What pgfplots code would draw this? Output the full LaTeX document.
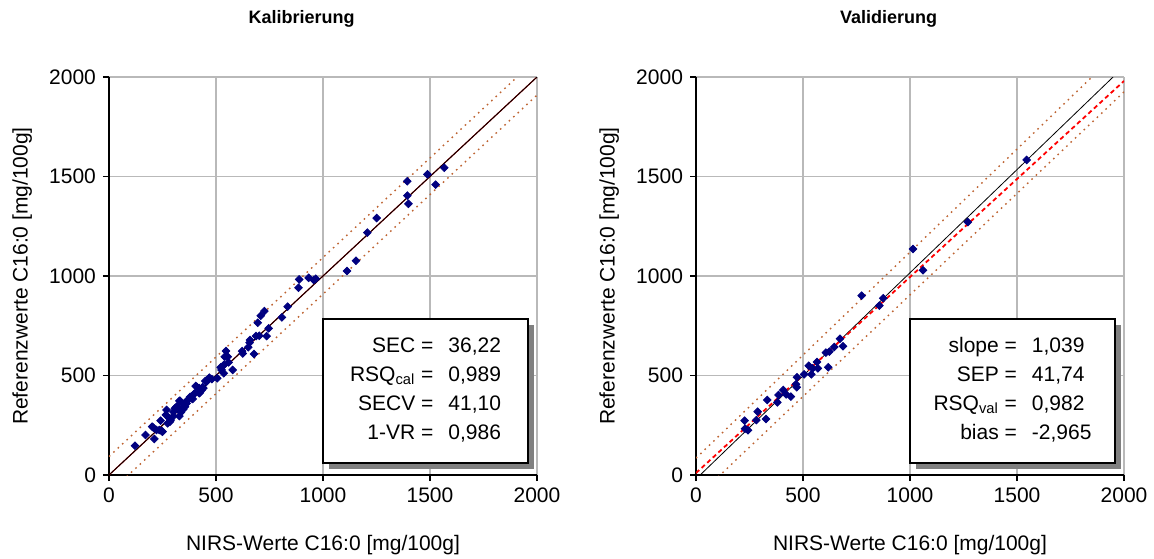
\documentclass[border=0pt]{standalone}
\usepackage{fontspec}
\setmainfont{Liberation Sans}
\usepackage{pgfplots}
\pgfplotsset{compat=1.18}

\definecolor{navy}{RGB}{0,0,128}
\definecolor{bandc}{RGB}{190,100,50}
\definecolor{gridc}{RGB}{185,185,185}
\definecolor{shadowc}{RGB}{128,128,128}

\pgfplotsset{
  nirs/.style={
    scale only axis, width=214pt, height=199pt,
    xmin=0, xmax=2000, ymin=0, ymax=2000,
    xtick={0,500,...,2000}, ytick={0,500,...,2000},
    axis lines=left, axis line style={-, black, line width=0.9pt},
    tick align=outside, major tick length=3pt,
    tick style={black, line width=0.6pt},
    grid=major, major grid style={gridc, line width=0.8pt},
    /pgf/number format/1000 sep={},
    /pgf/number format/assume math mode=true,
    ticklabel style={font=\fontsize{10.5}{12}\selectfont},
    label style={font=\fontsize{10.5}{12}\selectfont},
    xlabel={NIRS-Werte C16:0 [mg/100g]},
    ylabel={Referenzwerte C16:0 [mg/100g]},
    xlabel style={at={(axis description cs:0.5,-0.176)}, anchor=center},
    ylabel style={at={(axis description cs:-0.203,0.5)}, anchor=center},
    title style={at={(axis description cs:0.45,1.115)}, anchor=center,
      font=\bfseries\fontsize{9}{11}\selectfont},
  },
  pts/.style={only marks, mark=square*, mark size=1.35pt, color=navy,
    mark options={rotate=45}},
  band/.style={bandc, dash pattern=on 0.8pt off 2.2pt, line width=0.7pt},
}

\newcommand{\statbox}[1]{%
  \fill[shadowc] ([xshift=3pt,yshift=-3pt]axis cs:1000,784) rectangle ([xshift=3pt,yshift=-3pt]axis cs:1958,60);
  \filldraw[fill=white, draw=black, line width=0.9pt] (axis cs:1000,60) rectangle (axis cs:1958,784);
  \node[font=\fontsize{10.5}{12}\selectfont] at (axis cs:1479,422)
    {\begin{tabular}{@{}r@{\hspace{7.5pt}}l@{}}#1\end{tabular}};
}

\begin{document}
\begin{tikzpicture}
\path[use as bounding box] (-54.5pt,-41.5pt) rectangle (522.5pt,237.5pt);

\begin{axis}[nirs, title={Kalibrierung}]
\addplot[band] coordinates {(0,93) (1907,2000)};
\addplot[band] coordinates {(0,-91) (2000,1909)};
\addplot[red!70!black, line width=0.6pt] coordinates {(0,0) (2000,2000)};
\addplot[black, line width=0.4pt] coordinates {(0,0) (2000,2000)};
\addplot[pts] coordinates {
(1567,1544) (1488,1511) (1526,1459) (1394,1476) (1394,1404) (1399,1363)
(1251,1291) (1207,1218) (1154,1077) (1112,1025) (889,983) (886,941)
(933,991) (957,980) (966,986) (835,846) (808,792) (726,824) (709,800)
(695,765) (746,737) (737,698) (702,700) (687,698) (659,678) (657,665)
(651,642) (678,608) (622,623) (625,611) (547,623) (541,594) (555,594)
(559,566) (537,553) (522,541) (526,528) (536,511) (578,528) (506,486)
(481,482) (461,477) (450,472) (469,489)
(121,147) (171,201) (207,238) (212,181) (222,226) (241,273) (246,221)
(266,302) (269,327) (274,260) (288,276) (301,296) (308,335) (319,343)
(329,372) (336,315) (341,327) (355,343) (360,368) (368,377) (391,382)
(402,411) (410,444) (425,414) (433,427) (441,436) (456,469) (421,437)
(405,447) (282,285) (301,317) (347,330) (350,352) (363,360) (379,393)
(386,385) (397,407) (422,411) (437,441) (202,243) (235,226) (250,218)
(285,268) (316,343) (332,373) (329,296)
};
\statbox{SEC = & 36,22\\[2.4pt] RSQ\textsubscript{cal} = & 0,989\\[2.4pt] SECV = & 41,10\\[2.4pt] 1-VR = & 0,986}
\end{axis}

\begin{axis}[nirs, at={(293.5pt,0pt)}, title={Validierung}]
\addplot[band] coordinates {(0,85) (1850,2000)};
\addplot[band] coordinates {(103,-10) (2000,1925)};
\addplot[black, line width=0.4pt] coordinates {(0,-20) (1949,2000)};
\addplot[red, line width=0.9pt, dash pattern=on 2.2pt off 1.6pt] coordinates {(0,10) (2000,1980)};
\addplot[pts] coordinates {
(1545,1583) (1270,1271) (1014,1136) (1061,1029) (774,901) (875,888)
(857,851) (673,685) (687,647) (646,643) (623,620) (607,615) (618,541)
(565,568) (569,536) (527,549) (545,536) (539,506) (505,506) (472,491)
(467,456) (471,441) (408,427) (421,405) (386,402) (443,394) (333,377)
(380,365) (288,318) (282,276) (327,281) (227,273) (229,233) (243,225)
};
\statbox{slope = & 1,039\\[2.4pt] SEP = & 41,74\\[2.4pt] RSQ\textsubscript{val} = & 0,982\\[2.4pt] bias = & -2,965}
\end{axis}
\end{tikzpicture}
\end{document}
